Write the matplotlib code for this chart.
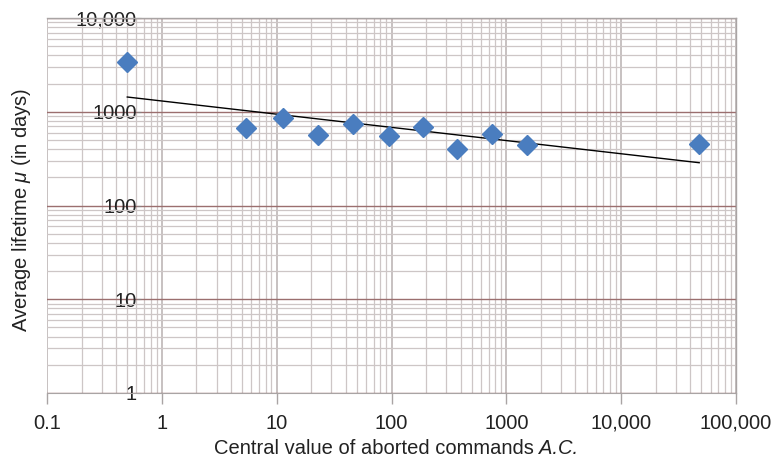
import numpy as np
import matplotlib
matplotlib.use("Agg")
import matplotlib.pyplot as plt
from matplotlib.ticker import FixedLocator, LogLocator, NullFormatter

# Data
central_ac = [0.5, 5.4, 11.4, 23, 46, 95, 188, 372, 752, 1517, 47800]
lifetime_days = [3400, 671, 857, 565, 740, 551, 687, 401, 579, 441, 453]

x_ticks = [0.1, 1, 10, 100, 1000, 10000, 100000]
x_tick_labels = ["0.1", "1", "10", "100", "1000", "10,000", "100,000"]
y_ticks = [1, 10, 100, 1000, 10000]
y_tick_labels = ["1", "10", "100", "1000", "10,000"]

plt.rcParams['font.family'] = ['Liberation Sans', 'DejaVu Sans']
plt.rcParams['mathtext.fontset'] = 'custom'
plt.rcParams['mathtext.rm'] = 'Liberation Sans'
plt.rcParams['mathtext.it'] = 'Liberation Sans:italic'

FS = 14.5
W, H = 776, 459
fig = plt.figure(figsize=(7.76, 4.59), dpi=100)
ax = fig.add_axes([47/W, 66/H, (736-47)/W, (393-18)/H])
ax.set_xscale('log')
ax.set_yscale('log')
ax.set_xlim(0.1, 100000)
ax.set_ylim(1, 10000)

# gridlines
minor_col = '#cdc6c6'
ax.xaxis.set_minor_locator(LogLocator(base=10, subs=np.arange(2, 10)))
ax.yaxis.set_minor_locator(LogLocator(base=10, subs=np.arange(2, 10)))
ax.xaxis.set_minor_formatter(NullFormatter())
ax.yaxis.set_minor_formatter(NullFormatter())
ax.grid(which='minor', axis='both', color=minor_col, linewidth=0.9)
ax.grid(which='major', axis='x', color='#b8b0b0', linewidth=1.1)
ax.grid(which='major', axis='y', color='#9b6f6f', linewidth=1.0)
ax.set_axisbelow(True)

# trendline (power fit, least squares in log-log space)
lx = np.log10(central_ac)
ly = np.log10(lifetime_days)
slope, intercept = np.polyfit(lx, ly, 1)
tx = np.array([min(central_ac), max(central_ac)])
ty = 10 ** (intercept + slope * np.log10(tx))
ax.plot(tx, ty, color='black', linewidth=1.0, zorder=3)

ax.plot(central_ac, lifetime_days, linestyle='none', marker='D', markersize=10,
        color='#4a7dbf', markeredgecolor='#4a7dbf', zorder=4)

# axes styling
for s in ['top', 'right']:
    ax.spines[s].set_color('#a9a4a4')
    ax.spines[s].set_linewidth(1.0)
ax.spines['bottom'].set_color('#a9a4a4')
ax.spines['left'].set_position(('data', 0.66))
ax.spines['left'].set_color('none')

ax.xaxis.set_major_locator(FixedLocator(x_ticks))
ax.set_xticklabels(x_tick_labels)
ax.yaxis.set_major_locator(FixedLocator(y_ticks))
ax.set_yticklabels(y_tick_labels)
ax.tick_params(axis='x', which='major', direction='out', length=8, width=1.0,
               color='#a9a4a4', labelsize=FS, pad=7, labelcolor='#222222')
ax.tick_params(axis='y', which='major', direction='out', length=3, width=0.8,
               color='#888080', labelsize=FS, pad=0, labelcolor='#222222')
ax.tick_params(which='minor', length=0)

# x-axis title: upright part + italic "A.C.", centred as a whole
fig.canvas.draw()
r = fig.canvas.get_renderer()
t1 = fig.text(0, 0, 'Central value of aborted commands ', fontsize=FS, color='#222222',
              ha='left', va='center')
t2 = fig.text(0, 0, 'A.C.', fontsize=FS, color='#222222', style='italic',
              ha='left', va='center')
w1 = t1.get_window_extent(r).width
w2 = t2.get_window_extent(r).width
cx, cy = 396, H - 448
x0 = cx - (w1 + w2) / 2
t1.set_position((x0 / W, cy / H))
t2.set_position(((x0 + w1) / W, cy / H))

fig.text(22/W, (H-210)/H, 'Average lifetime $\\mathit{\\mu}$ (in days)', rotation=90,
         ha='center', va='center', fontsize=FS, color='#222222')

fig.savefig('out.png', dpi=100)
